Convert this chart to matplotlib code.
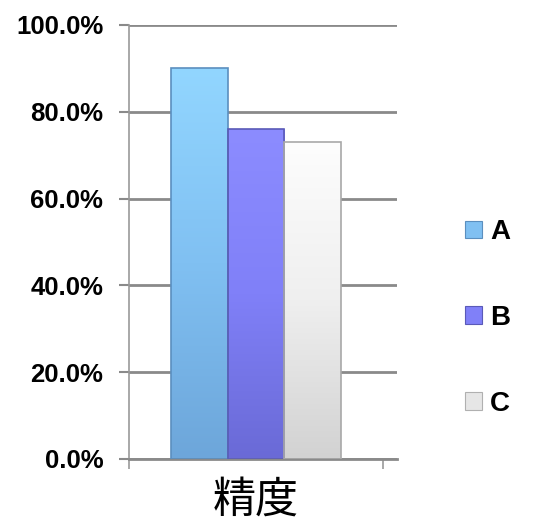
import numpy as np
import matplotlib
matplotlib.use("Agg")
import matplotlib.pyplot as plt
from matplotlib.colors import LinearSegmentedColormap
from matplotlib.patches import Patch
from matplotlib.ticker import PercentFormatter

# data
category = "精度"
series = ["A", "B", "C"]
values = [0.90, 0.76, 0.73]
yticks = [0.0, 0.2, 0.4, 0.6, 0.8, 1.0]

# gradient colours (top, middle, bottom) per series
grads = [
    ["#92d6ff", "#80c0f2", "#6da6da"],
    ["#8c8cff", "#8080f8", "#6a6ad6"],
    ["#fdfdfd", "#efefef", "#d2d2d2"],
]
edges = ["#5b8fbf", "#5a5ab8", "#a8a8a8"]

fig = plt.figure(figsize=(5.37, 5.22), dpi=100)
ax = fig.add_axes([129 / 537, 63 / 522, 268 / 537, 434 / 522])

width = 0.222
offsets = [-width, 0.0, width]
grid_c = "#8a8a8a"

for i, (name, v) in enumerate(zip(series, values)):
    x0 = offsets[i] - width / 2
    bar = ax.bar(offsets[i], v, width=width, facecolor="none",
                 edgecolor=edges[i], linewidth=1.2, zorder=3)[0]
    cmap = LinearSegmentedColormap.from_list(name, grads[i][::-1])
    grad = np.linspace(0, 1, 256).reshape(-1, 1)
    im = ax.imshow(grad, cmap=cmap, origin="lower", aspect="auto",
                   extent=[x0, x0 + width, 0, v], zorder=2)
    im.set_clip_path(bar)

ax.set_xlim(-0.5, 0.5 + 14 / 254)
ax.set_ylim(0, 1.0)
ax.set_yticks(yticks)
ax.yaxis.set_major_formatter(PercentFormatter(1.0, decimals=1))
ax.grid(axis="y", color=grid_c, linewidth=2, zorder=0)
ax.set_axisbelow(True)

ax.set_xticks([-0.5, 0.5])
ax.set_xticklabels(["", ""])
ax.tick_params(axis="x", direction="out", length=7.5, width=1.2, color="#999999")
ax.tick_params(axis="y", direction="out", length=7.5, width=1.5, color=grid_c,
               pad=11, labelsize=18.5)
for lab in ax.get_yticklabels():
    lab.set_fontfamily("Liberation Sans")
    lab.set_fontweight("bold")

for s in ["top", "right"]:
    ax.spines[s].set_visible(False)
ax.spines["left"].set_color("#999999")
ax.spines["left"].set_linewidth(1.2)
ax.spines["bottom"].set_color(grid_c)
ax.spines["bottom"].set_linewidth(2)

ax.set_xlabel(category, fontsize=31, family=["Noto Sans CJK JP", "DejaVu Sans"])
ax.xaxis.set_label_coords(0.474, -0.045)

handles = [Patch(facecolor=g[1], edgecolor=e, linewidth=0.8)
           for g, e in zip(grads, edges)]
handles[2] = Patch(facecolor="#e6e6e6", edgecolor="#b0b0b0", linewidth=0.8)
leg = fig.legend(handles, series, loc="center left",
                 bbox_to_anchor=(440 / 537, 1 - 318 / 522),
                 frameon=False, handlelength=0.6, handleheight=0.6,
                 handletextpad=0.3, labelspacing=2.15,
                 prop={"family": "Liberation Sans", "weight": "bold", "size": 20})

fig.savefig("out.png", dpi=100)
